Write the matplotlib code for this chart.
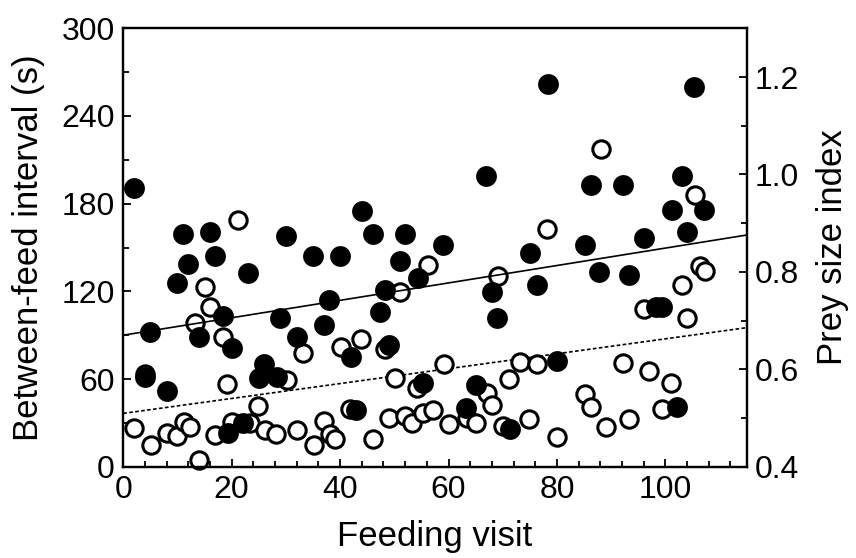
import matplotlib
matplotlib.use("Agg")
import matplotlib.pyplot as plt
import numpy as np
from matplotlib.ticker import MultipleLocator

plt.rcParams['font.family'] = ['Liberation Sans', 'DejaVu Sans']

# filled circles: between-feed interval (s), left axis
interval_visit = [2, 4, 5, 8, 10, 11, 12, 14, 16, 17, 18.4, 19.4, 20, 22, 23, 25, 26, 28.3, 29, 30,
                  32, 35, 37, 38, 40, 42, 43, 44, 46, 47.3, 48.2, 49, 51, 52, 54.3, 55.3, 59, 63.3, 65, 67,
                  68, 69, 71.3, 75, 76.3, 78.3, 80, 85.2, 86.2, 87.7, 92.2, 93.2, 96, 98.2, 99.4, 101.2,
                  102.2, 103.1, 104, 105.3, 107.2]
interval_s = [191, 61.5, 92, 52, 126, 159.5, 139, 89, 160.5, 144, 103, 23, 81, 30, 132.5, 60.5, 70, 61.5, 102, 158,
              89, 144, 97, 114, 144, 75, 38.5, 175, 159, 106, 121, 83, 141, 159, 129, 57.5, 151.5, 40, 56, 199,
              119.5, 102, 25.5, 146, 124, 262, 72.5, 151.5, 192.5, 133.5, 192.5, 131, 156.5, 109, 109, 176,
              41, 199, 160.5, 259.5, 176]

# open circles: prey size index, right axis
prey_visit = [2, 4.1, 5.2, 8, 10, 11.2, 12.3, 13.2, 14, 15.1, 16, 16.9, 18.4, 19.2, 20, 21.1, 23.4, 24.9,
              26.2, 28.2, 30.2, 32, 33.2, 35.2, 37.1, 38.2, 39.1, 40.2, 41.9, 43.9, 46, 48.2, 49.1, 50.2,
              51.1, 52, 53.2, 54.2, 55.3, 56.2, 57.1, 59.1, 60, 63.4, 65.1, 67.1, 68, 69.2, 70.1, 71.2,
              73.1, 74.9, 76.3, 78.2, 80, 85.2, 86.2, 88.1, 89.1, 92.2, 93.2, 96, 96.9, 99.3, 101.1,
              103.1, 104, 105.4, 106.3, 107.4]
prey_index = [0.479, 0.591, 0.444, 0.470, 0.464, 0.492, 0.482, 0.695, 0.414, 0.768, 0.727, 0.465, 0.666, 0.570,
              0.492, 0.907, 0.490, 0.525, 0.475, 0.468, 0.578, 0.475, 0.634, 0.444, 0.494, 0.468, 0.456, 0.646,
              0.518, 0.663, 0.456, 0.641, 0.499, 0.583, 0.759, 0.504, 0.490, 0.561, 0.510, 0.815, 0.516, 0.611,
              0.487, 0.499, 0.490, 0.551, 0.527, 0.791, 0.483, 0.581, 0.614, 0.498, 0.611, 0.889, 0.462, 0.549,
              0.523, 1.053, 0.482, 0.612, 0.498, 0.723, 0.597, 0.518, 0.571, 0.773, 0.706, 0.957, 0.813, 0.801]

# regression lines (intercept, slope)
interval_fit = [90.0, 0.596]
prey_fit = [0.5095, 0.00153]

fig = plt.figure(figsize=(8.56, 5.58), dpi=100)
ax = fig.add_axes([0.144, 0.1636, 0.7283, 0.7857])
ax2 = ax.twinx()

xs = np.array([0, 115])
ax2.plot(xs, prey_fit[0] + prey_fit[1] * xs, color='black', lw=1.2, linestyle=(0, (2.2, 1.4)))
ax2.plot(prey_visit, prey_index, 'o', ms=12.5, mfc='white', mec='black', mew=2.2, clip_on=False)

ax.plot(xs, interval_fit[0] + interval_fit[1] * xs, color='black', lw=1.2)
ax.plot(interval_visit, interval_s, 'o', ms=15, mfc='black', mec='black', mew=0, clip_on=False)

ax.set_zorder(ax2.get_zorder() + 1)
ax.patch.set_visible(False)

ax.set_xlim(0, 115)
ax.set_ylim(0, 300)
ax2.set_ylim(0.4, 1.3)

ax.xaxis.set_major_locator(MultipleLocator(20))
ax.xaxis.set_minor_locator(MultipleLocator(4))
ax.yaxis.set_major_locator(MultipleLocator(60))
ax.yaxis.set_minor_locator(MultipleLocator(30))
ax2.yaxis.set_minor_locator(MultipleLocator(0.1))
ax2.set_yticks([0.4, 0.6, 0.8, 1.0, 1.2])

for a in (ax, ax2):
    for s in a.spines.values():
        s.set_linewidth(1.6)
    a.tick_params(which='both', direction='in', width=1.3, labelsize=23, top=False)
    a.tick_params(which='major', length=6, pad=6)
    a.tick_params(which='minor', length=4)

ax.set_xlabel("Feeding visit", fontsize=25, labelpad=11)
ax.set_ylabel("Between-feed interval (s)", fontsize=25, labelpad=12)
ax2.set_ylabel("Prey size index", fontsize=25, labelpad=12)

fig.savefig("out.png", dpi=100)
